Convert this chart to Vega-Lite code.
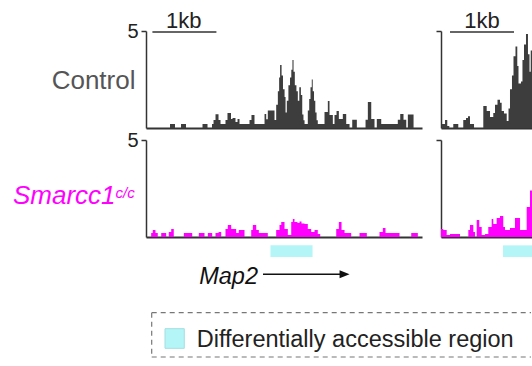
{
  "$schema": "https://vega.github.io/schema/vega-lite/v6.json",
  "padding": {"left": 12, "top": 10, "right": 0, "bottom": 7},
  "background": "white",
  "config": {"view": {"stroke": null}, "font": "Liberation Sans", "axis": {"grid": false}},
  "columns": 2,
  "bounds": "flush",
  "spacing": {"row": 12, "column": 19},
  "concat": [
    {
      "width": 276, "height": 97,
      "layer": [
        {
          "data": {"values": [
            {"pos":0,"v":0},{"pos":375,"v":0.21},{"pos":453,"v":0},{"pos":547,"v":0.21},{"pos":625,"v":0},{"pos":883,"v":0.21},{"pos":961,"v":0},{"pos":1031,"v":0.21},{"pos":1055,"v":0.41},{"pos":1086,"v":0.71},{"pos":1133,"v":0.41},{"pos":1164,"v":0.21},{"pos":1242,"v":0.41},{"pos":1273,"v":0.77},{"pos":1328,"v":0.46},{"pos":1352,"v":0.52},{"pos":1398,"v":0.31},{"pos":1430,"v":0.46},{"pos":1461,"v":0.21},{"pos":1617,"v":0.41},{"pos":1648,"v":0.67},{"pos":1695,"v":0.21},{"pos":1852,"v":0.72},{"pos":1878,"v":0.45},{"pos":1903,"v":0.9},{"pos":2008,"v":0.41},{"pos":2034,"v":1.2},{"pos":2060,"v":1.9},{"pos":2080,"v":2.6},{"pos":2095,"v":3.25},{"pos":2118,"v":2.7},{"pos":2140,"v":2.0},{"pos":2165,"v":1.6},{"pos":2180,"v":0.8},{"pos":2200,"v":1.4},{"pos":2225,"v":2.2},{"pos":2250,"v":2.6},{"pos":2270,"v":3.0},{"pos":2288,"v":3.5},{"pos":2305,"v":2.9},{"pos":2325,"v":2.2},{"pos":2350,"v":1.9},{"pos":2372,"v":1.4},{"pos":2395,"v":2.1},{"pos":2420,"v":1.7},{"pos":2441,"v":0.7},{"pos":2460,"v":0.4},{"pos":2477,"v":0.21},{"pos":2528,"v":0.9},{"pos":2550,"v":1.5},{"pos":2570,"v":2.1},{"pos":2590,"v":2.5},{"pos":2605,"v":1.9},{"pos":2625,"v":1.4},{"pos":2645,"v":0.8},{"pos":2665,"v":0.4},{"pos":2684,"v":0.21},{"pos":2789,"v":0.82},{"pos":2841,"v":1.39},{"pos":2867,"v":0.67},{"pos":2919,"v":0.21},{"pos":2945,"v":0.67},{"pos":2977,"v":0.88},{"pos":3013,"v":0.46},{"pos":3075,"v":0.72},{"pos":3128,"v":0.21},{"pos":3180,"v":0},{"pos":3222,"v":0.43},{"pos":3294,"v":0},{"pos":3430,"v":0.43},{"pos":3466,"v":1.34},{"pos":3519,"v":0.46},{"pos":3570,"v":0},{"pos":3606,"v":0.46},{"pos":3675,"v":0.21},{"pos":3934,"v":0.43},{"pos":3972,"v":0.72},{"pos":4023,"v":0.43},{"pos":4066,"v":0},{"pos":4091,"v":0.7},{"pos":4180,"v":0},{"pos":4312,"v":0}
          ]},
          "mark": {"type": "area", "interpolate": "step-after", "color": "#3d3d3d"},
          "encoding": {
            "x": {"field": "pos", "type": "quantitative", "scale": {"domain": [0, 4312], "nice": false},
                  "axis": {"labels": false, "ticks": false, "title": null, "domainColor": "#333", "domainWidth": 2}},
            "y": {"field": "v", "type": "quantitative", "stack": null, "scale": {"domain": [0, 5], "nice": false},
                  "axis": {"values": [5], "title": "Control", "titleAngle": 0, "titleAlign": "right", "titleBaseline": "alphabetic",
                           "titleX": -11, "titleY": 57, "titleFontSize": 26, "titleFontWeight": "normal", "titleColor": "#555",
                           "labelFontSize": 20, "labelColor": "#222", "labelPadding": 3, "tickSize": 5, "tickColor": "#333",
                           "tickWidth": 1.5, "domainColor": "#333", "domainWidth": 1.5}}
          }
        },
        {
          "data": {"values": [{"start": 100, "end": 1100, "y": 4.95}]},
          "mark": {"type": "rule", "color": "#333", "strokeWidth": 1.5},
          "encoding": {"x": {"field": "start", "type": "quantitative"}, "x2": {"field": "end"}, "y": {"field": "y", "type": "quantitative"}}
        },
        {
          "data": {"values": [{"mid": 590, "y": 5, "label": "1kb"}]},
          "mark": {"type": "text", "fontSize": 22, "baseline": "alphabetic", "dy": -3, "color": "#222"},
          "encoding": {"x": {"field": "mid", "type": "quantitative"}, "y": {"field": "y", "type": "quantitative"}, "text": {"field": "label"}}
        }
      ]
    },
    {
      "width": 91, "height": 97,
      "layer": [
        {
          "data": {"values": [
            {"pos":0,"v":0},{"pos":16,"v":0.21},{"pos":63,"v":0.41},{"pos":98,"v":0.1},{"pos":130,"v":0},{"pos":192,"v":0.21},{"pos":270,"v":0},{"pos":348,"v":0.41},{"pos":391,"v":0.52},{"pos":422,"v":0.6},{"pos":453,"v":0.21},{"pos":516,"v":0},{"pos":661,"v":1.13},{"pos":714,"v":0.88},{"pos":766,"v":0.57},{"pos":817,"v":0.77},{"pos":844,"v":1.2},{"pos":883,"v":1.45},{"pos":922,"v":1.3},{"pos":948,"v":0.88},{"pos":984,"v":0.75},{"pos":1027,"v":0.36},{"pos":1055,"v":1.0},{"pos":1078,"v":2.0},{"pos":1109,"v":2.7},{"pos":1133,"v":3.7},{"pos":1164,"v":4.2},{"pos":1192,"v":3.2},{"pos":1211,"v":2.3},{"pos":1250,"v":2.4},{"pos":1273,"v":3.5},{"pos":1297,"v":4.3},{"pos":1328,"v":4.85},{"pos":1359,"v":3.8},{"pos":1383,"v":2.9},{"pos":1402,"v":4.0},{"pos":1422,"v":4.0}
          ]},
          "mark": {"type": "area", "interpolate": "step-after", "color": "#3d3d3d"},
          "encoding": {
            "x": {"field": "pos", "type": "quantitative", "scale": {"domain": [0, 1422], "nice": false},
                  "axis": {"labels": false, "ticks": false, "title": null, "domainColor": "#333", "domainWidth": 2}},
            "y": {"field": "v", "type": "quantitative", "stack": null, "scale": {"domain": [0, 5], "nice": false},
                  "axis": {"values": [5], "labels": false, "title": null, "tickSize": 5, "tickColor": "#333", "tickWidth": 1.5,
                           "domainColor": "#333", "domainWidth": 1.5}}
          }
        },
        {
          "data": {"values": [{"start": 141, "end": 1141, "y": 4.95}]},
          "mark": {"type": "rule", "color": "#333", "strokeWidth": 1.5},
          "encoding": {"x": {"field": "start", "type": "quantitative"}, "x2": {"field": "end"}, "y": {"field": "y", "type": "quantitative"}}
        },
        {
          "data": {"values": [{"mid": 640, "y": 5, "label": "1kb"}]},
          "mark": {"type": "text", "fontSize": 22, "baseline": "alphabetic", "dy": -3, "color": "#222"},
          "encoding": {"x": {"field": "mid", "type": "quantitative"}, "y": {"field": "y", "type": "quantitative"}, "text": {"field": "label"}}
        }
      ]
    },
    {
      "width": 276, "height": 97,
      "layer": [
        {
          "data": {"values": [
            {"pos":0,"v":0},{"pos":81,"v":0.21},{"pos":106,"v":0.36},{"pos":148,"v":0.21},{"pos":184,"v":0},{"pos":238,"v":0.21},{"pos":316,"v":0},{"pos":356,"v":0.26},{"pos":394,"v":0.41},{"pos":434,"v":0},{"pos":591,"v":0.21},{"pos":722,"v":0},{"pos":825,"v":0.21},{"pos":914,"v":0},{"pos":966,"v":0.21},{"pos":1034,"v":0},{"pos":1086,"v":0.21},{"pos":1133,"v":0.26},{"pos":1175,"v":0},{"pos":1242,"v":0.41},{"pos":1278,"v":0.62},{"pos":1331,"v":0.41},{"pos":1409,"v":0.21},{"pos":1450,"v":0.36},{"pos":1539,"v":0},{"pos":1644,"v":0.36},{"pos":1669,"v":0.62},{"pos":1722,"v":0.36},{"pos":1763,"v":0.21},{"pos":1903,"v":0},{"pos":2034,"v":0.36},{"pos":2086,"v":0.62},{"pos":2113,"v":0.77},{"pos":2164,"v":0.41},{"pos":2216,"v":0.1},{"pos":2269,"v":0.77},{"pos":2294,"v":0.93},{"pos":2320,"v":0.77},{"pos":2367,"v":0.72},{"pos":2398,"v":0.8},{"pos":2430,"v":0.7},{"pos":2477,"v":0.67},{"pos":2528,"v":0.41},{"pos":2581,"v":0.26},{"pos":2633,"v":0.36},{"pos":2684,"v":0.15},{"pos":2722,"v":0},{"pos":2972,"v":0.41},{"pos":3013,"v":0.77},{"pos":3055,"v":0.36},{"pos":3102,"v":0.21},{"pos":3206,"v":0},{"pos":3336,"v":0.21},{"pos":3450,"v":0},{"pos":3648,"v":0.26},{"pos":3700,"v":0.46},{"pos":3742,"v":0.21},{"pos":3961,"v":0},{"pos":4144,"v":0.21},{"pos":4247,"v":0},{"pos":4312,"v":0}
          ]},
          "mark": {"type": "area", "interpolate": "step-after", "color": "#ff00ff"},
          "encoding": {
            "x": {"field": "pos", "type": "quantitative", "scale": {"domain": [0, 4312], "nice": false},
                  "axis": {"labels": false, "ticks": false, "title": null, "domainColor": "#333", "domainWidth": 2}},
            "y": {"field": "v", "type": "quantitative", "stack": null, "scale": {"domain": [0, 5], "nice": false},
                  "axis": {"values": [5], "title": "Smarcc1", "titleAngle": 0, "titleAlign": "right", "titleBaseline": "alphabetic",
                           "titleX": -31, "titleY": 63.7, "titleFontSize": 26, "titleFontWeight": "normal", "titleFontStyle": "italic",
                           "titleColor": "#ff00ff", "labelFontSize": 20, "labelColor": "#222", "labelPadding": 3, "tickSize": 5,
                           "tickColor": "#333", "tickWidth": 1.5, "domainColor": "#333", "domainWidth": 1.5}}
          }
        },
        {
          "data": {"values": [{"start": 1945, "end": 2602, "lo": -1.03, "hi": -0.43}]},
          "mark": {"type": "rect", "color": "#b4f5f8"},
          "encoding": {"x": {"field": "start", "type": "quantitative"}, "x2": {"field": "end"},
                       "y": {"field": "lo", "type": "quantitative"}, "y2": {"field": "hi"}}
        },
        {
          "data": {"values": [{"px": -477, "y": 2.03, "label": "c/c"}]},
          "mark": {"type": "text", "fontSize": 15, "fontStyle": "italic", "align": "left", "baseline": "alphabetic", "color": "#ff00ff"},
          "encoding": {"x": {"field": "px", "type": "quantitative"}, "y": {"field": "y", "type": "quantitative"}, "text": {"field": "label"}}
        }
      ]
    },
    {
      "width": 91, "height": 97,
      "layer": [
        {
          "data": {"values": [
            {"pos":0,"v":0.41},{"pos":36,"v":0.36},{"pos":89,"v":0.1},{"pos":141,"v":0.15},{"pos":297,"v":0},{"pos":427,"v":0.36},{"pos":453,"v":0.62},{"pos":505,"v":0.26},{"pos":531,"v":0},{"pos":558,"v":0.88},{"pos":598,"v":0.52},{"pos":636,"v":0.1},{"pos":688,"v":0.15},{"pos":739,"v":0.52},{"pos":792,"v":0.93},{"pos":817,"v":0.67},{"pos":870,"v":0.98},{"pos":922,"v":1.08},{"pos":973,"v":0.52},{"pos":1000,"v":0.36},{"pos":1078,"v":0.46},{"pos":1156,"v":0.98},{"pos":1234,"v":0.36},{"pos":1339,"v":1.55},{"pos":1391,"v":2.4},{"pos":1422,"v":2.4}
          ]},
          "mark": {"type": "area", "interpolate": "step-after", "color": "#ff00ff"},
          "encoding": {
            "x": {"field": "pos", "type": "quantitative", "scale": {"domain": [0, 1422], "nice": false},
                  "axis": {"labels": false, "ticks": false, "title": null, "domainColor": "#333", "domainWidth": 2}},
            "y": {"field": "v", "type": "quantitative", "stack": null, "scale": {"domain": [0, 5], "nice": false},
                  "axis": {"values": [5], "labels": false, "title": null, "tickSize": 5, "tickColor": "#333", "tickWidth": 1.5,
                           "domainColor": "#333", "domainWidth": 1.5}}
          }
        },
        {
          "data": {"values": [{"start": 969, "end": 1422, "lo": -1.03, "hi": -0.43}]},
          "mark": {"type": "rect", "color": "#b4f5f8"},
          "encoding": {"x": {"field": "start", "type": "quantitative"}, "x2": {"field": "end"},
                       "y": {"field": "lo", "type": "quantitative"}, "y2": {"field": "hi"}}
        }
      ]
    },
    {
      "width": 276, "height": 110,
      "layer": [
        {
          "data": {"values": [{"x": 89, "x2": 6015, "y": 4.63}, {"x": 89, "x2": 6015, "y": 0.2}]},
          "mark": {"type": "rule", "color": "#777", "strokeWidth": 1.2, "strokeDash": [5, 4]},
          "encoding": {
            "x": {"field": "x", "type": "quantitative", "scale": {"domain": [0, 4312], "nice": false}, "axis": null},
            "x2": {"field": "x2"},
            "y": {"field": "y", "type": "quantitative", "scale": {"domain": [0, 11], "nice": false}, "axis": null}
          }
        },
        {
          "data": {"values": [{"x": 89, "y": 4.63, "y2": 0.2}]},
          "mark": {"type": "rule", "color": "#777", "strokeWidth": 1.2, "strokeDash": [5, 4]},
          "encoding": {"x": {"field": "x", "type": "quantitative"}, "y": {"field": "y", "type": "quantitative"}, "y2": {"field": "y2"}}
        },
        {
          "data": {"values": [{"x": 297, "x2": 598, "y": 3.03, "y2": 1.07}]},
          "mark": {"type": "rect", "fill": "#b4f5f8", "stroke": "#a3dde1", "strokeWidth": 1},
          "encoding": {"x": {"field": "x", "type": "quantitative"}, "x2": {"field": "x2"}, "y": {"field": "y", "type": "quantitative"}, "y2": {"field": "y2"}}
        },
        {
          "data": {"values": [{"x": 792, "y": 1.2, "label": "Differentially accessible region"}]},
          "mark": {"type": "text", "fontSize": 23.5, "align": "left", "baseline": "alphabetic", "color": "#222"},
          "encoding": {"x": {"field": "x", "type": "quantitative"}, "y": {"field": "y", "type": "quantitative"}, "text": {"field": "label"}}
        },
        {
          "data": {"values": [{"x": 1750, "y": 7.47, "label": "Map2"}]},
          "mark": {"type": "text", "fontSize": 23.5, "fontStyle": "italic", "align": "right", "baseline": "alphabetic", "color": "#111"},
          "encoding": {"x": {"field": "x", "type": "quantitative"}, "y": {"field": "y", "type": "quantitative"}, "text": {"field": "label"}}
        },
        {
          "data": {"values": [{"x": 1828, "x2": 3047, "y": 8.47}]},
          "mark": {"type": "rule", "color": "#111", "strokeWidth": 1.5},
          "encoding": {"x": {"field": "x", "type": "quantitative"}, "x2": {"field": "x2"}, "y": {"field": "y", "type": "quantitative"}}
        },
        {
          "data": {"values": [{"x": 3102, "y": 8.47}]},
          "mark": {"type": "point", "shape": "M-1,-0.8L1,0L-1,0.8Z", "size": 100, "filled": true, "color": "#111", "opacity": 1},
          "encoding": {"x": {"field": "x", "type": "quantitative"}, "y": {"field": "y", "type": "quantitative"}}
        }
      ]
    }
  ]
}
